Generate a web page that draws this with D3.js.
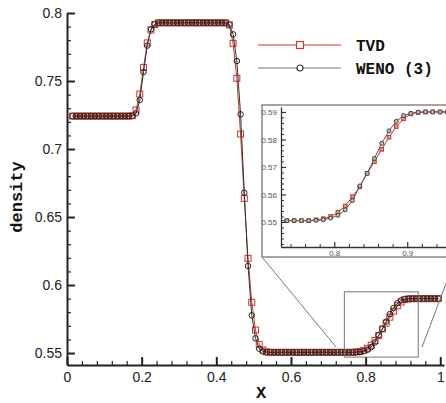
<!DOCTYPE html>
<html>
<head>
<meta charset="utf-8">
<script src="https://cdn.jsdelivr.net/npm/d3@7/dist/d3.min.js"></script>
<style>
  body { margin: 0; background: #fff; }
  svg { display: block; }
</style>
</head>
<body>
<div id="chart"></div>
<script>
// cell centres of the grid
var xs = [0.015,0.025,0.035,0.045,0.055,0.065,0.075,0.085,0.095,0.105,
  0.115,0.125,0.135,0.145,0.155,0.165,0.175,0.185,0.195,0.205,
  0.215,0.225,0.235,0.245,0.255,0.265,0.275,0.285,0.295,0.305,
  0.315,0.325,0.335,0.345,0.355,0.365,0.375,0.385,0.395,0.405,
  0.415,0.425,0.435,0.445,0.455,0.465,0.475,0.485,0.495,0.505,
  0.515,0.525,0.535,0.545,0.555,0.565,0.575,0.585,0.595,0.605,
  0.615,0.625,0.635,0.645,0.655,0.665,0.675,0.685,0.695,0.705,
  0.715,0.725,0.735,0.745,0.755,0.765,0.775,0.785,0.795,0.805,
  0.815,0.825,0.835,0.845,0.855,0.865,0.875,0.885,0.895,0.905,
  0.915,0.925,0.935,0.945,0.955,0.965,0.975,0.985,0.995];

var tvd = [0.7242,0.7242,0.7242,0.7242,0.7242,0.7242,0.7242,0.7242,0.7242,0.7242,
  0.7242,0.7242,0.7242,0.7242,0.7242,0.7242,0.7245,0.7287,0.7404,0.7600,
  0.7780,0.7875,0.7915,0.7928,0.7928,0.7928,0.7928,0.7928,0.7928,0.7928,
  0.7928,0.7928,0.7928,0.7928,0.7928,0.7928,0.7928,0.7928,0.7928,0.7928,
  0.7928,0.7928,0.7912,0.7777,0.7520,0.7110,0.6637,0.6196,0.5873,0.5669,
  0.5564,0.5522,0.5508,0.5505,0.5505,0.5505,0.5505,0.5505,0.5505,0.5505,
  0.5505,0.5505,0.5505,0.5505,0.5505,0.5505,0.5505,0.5505,0.5505,0.5505,
  0.5505,0.5505,0.5505,0.5505,0.5505,0.5505,0.5508,0.5512,0.5520,0.5535,
  0.5558,0.5592,0.5628,0.5677,0.5719,0.5764,0.5808,0.5847,0.5875,0.5893,
  0.5898,0.5900,0.5900,0.5900,0.5900,0.5900,0.5900,0.5900,0.5900];

var weno = [0.7242,0.7242,0.7242,0.7242,0.7242,0.7242,0.7242,0.7242,0.7242,0.7242,
  0.7242,0.7242,0.7242,0.7242,0.7242,0.7242,0.7243,0.7262,0.7360,0.7566,
  0.7760,0.7880,0.7918,0.7928,0.7928,0.7928,0.7928,0.7928,0.7928,0.7928,
  0.7928,0.7928,0.7928,0.7928,0.7928,0.7928,0.7928,0.7928,0.7928,0.7928,
  0.7928,0.7928,0.7915,0.7843,0.7647,0.7255,0.6679,0.6140,0.5777,0.5608,
  0.5532,0.5512,0.5506,0.5505,0.5505,0.5505,0.5505,0.5505,0.5505,0.5505,
  0.5505,0.5505,0.5505,0.5505,0.5505,0.5505,0.5505,0.5505,0.5505,0.5505,
  0.5505,0.5505,0.5505,0.5505,0.5505,0.5505,0.5506,0.5508,0.5514,0.5524,
  0.5544,0.5578,0.5631,0.5677,0.5731,0.5786,0.5831,0.5866,0.5887,0.5895,
  0.5899,0.5900,0.5900,0.5900,0.5900,0.5900,0.5900,0.5900,0.5900];

var seriesNames = ["TVD", "WENO (3)"];
var xTicks = [0, 0.2, 0.4, 0.6, 0.8, 1];
var yTicks = [0.55, 0.6, 0.65, 0.7, 0.75, 0.8];
var insetXTicks = [0.8, 0.9];
var insetYTicks = [0.55, 0.56, 0.57, 0.58, 0.59];
var zoomBox = [0.743, 0.941, 0.547, 0.595]; // x0, x1, y0, y1

var red = "#c8372b", dark = "#222";
var W = 446, H = 403;

var svg = d3.select("#chart").append("svg")
  .attr("width", W).attr("height", H);

var x = d3.scaleLinear().domain([0, 1.01]).range([67, 444]);
var y = d3.scaleLinear().domain([0.5412, 0.8]).range([365, 13]);

function near(v, list) {
  return list.some(function(t) { return Math.abs(t - v) < 1e-6; });
}
var xMinor = d3.range(0, 26).map(function(i) { return +(i * 0.04).toFixed(2); })
  .filter(function(v) { return v <= 1 && !near(v, xTicks); });
var yMinor = d3.range(55, 81).map(function(i) { return i / 100; })
  .filter(function(v) { return !near(v, yTicks); });

var points = xs.map(function(d, i) { return { x: d, tvd: tvd[i], weno: weno[i] }; });

// ---- main axes
svg.append("g")
  .attr("transform", "translate(0,365)")
  .call(d3.axisBottom(x).tickValues(xMinor).tickSize(-4).tickSizeOuter(0).tickFormat(""))
  .call(function(g) { g.select(".domain").remove(); g.selectAll("line").attr("stroke", dark).attr("stroke-width", 1.2); });

svg.append("g")
  .attr("transform", "translate(67,0)")
  .call(d3.axisLeft(y).tickValues(yMinor).tickSize(-4).tickSizeOuter(0).tickFormat(""))
  .call(function(g) { g.select(".domain").remove(); g.selectAll("line").attr("stroke", dark).attr("stroke-width", 1.2); });

var xAxisG = svg.append("g")
  .attr("transform", "translate(0,365)")
  .call(d3.axisBottom(x).tickValues(xTicks).tickSize(-8).tickSizeOuter(0).tickPadding(7).tickFormat(d3.format("")));

var yAxisG = svg.append("g")
  .attr("transform", "translate(67,0)")
  .call(d3.axisLeft(y).tickValues(yTicks).tickSize(-8).tickSizeOuter(0).tickPadding(5).tickFormat(d3.format("")));

[xAxisG, yAxisG].forEach(function(g) {
  g.select(".domain").attr("stroke", dark).attr("stroke-width", 2);
  g.selectAll(".tick line").attr("stroke", dark).attr("stroke-width", 2);
  g.selectAll(".tick text")
    .attr("font-family", "'Liberation Sans', Arial, sans-serif")
    .attr("font-size", 14).attr("fill", "#222");
});

svg.append("text")
  .attr("transform", "translate(22,197) rotate(-90)")
  .attr("text-anchor", "middle")
  .attr("font-family", "'Liberation Mono', 'Courier New', monospace")
  .attr("font-weight", "bold").attr("font-size", 17).attr("fill", "#111")
  .text("density");

svg.append("text")
  .attr("x", 261).attr("y", 398)
  .attr("text-anchor", "middle")
  .attr("font-family", "'Liberation Mono', 'Courier New', monospace")
  .attr("font-weight", "bold").attr("font-size", 17).attr("fill", "#111")
  .text("X");

// ---- main series
function drawSeries(g, sx, sy, data, key, color, lineColor, kind, size, fill) {
  g.append("path")
    .datum(data)
    .attr("fill", "none").attr("stroke", lineColor).attr("stroke-width", 1)
    .attr("d", d3.line().x(function(d) { return sx(d.x); }).y(function(d) { return sy(d[key]); }));
  if (kind === "square") {
    g.selectAll(".m-" + key).data(data).enter().append("rect")
      .attr("class", "m-" + key)
      .attr("x", function(d) { return sx(d.x) - size / 2; })
      .attr("y", function(d) { return sy(d[key]) - size / 2; })
      .attr("width", size).attr("height", size)
      .attr("fill", fill).attr("stroke", color).attr("stroke-width", 1);
  } else {
    g.selectAll(".m-" + key).data(data).enter().append("circle")
      .attr("class", "m-" + key)
      .attr("cx", function(d) { return sx(d.x); })
      .attr("cy", function(d) { return sy(d[key]); })
      .attr("r", size / 2)
      .attr("fill", fill).attr("stroke", color).attr("stroke-width", 1);
  }
}

var mainG = svg.append("g");
drawSeries(mainG, x, y, points, "tvd", red, red, "square", 6, "none");
drawSeries(mainG, x, y, points, "weno", dark, "#333", "circle", 5.5, "none");

// ---- zoom box and connectors
var bx0 = x(zoomBox[0]), bx1 = x(zoomBox[1]), by0 = y(zoomBox[3]), by1 = y(zoomBox[2]);
svg.append("rect")
  .attr("x", bx0).attr("y", by0).attr("width", bx1 - bx0).attr("height", by1 - by0)
  .attr("fill", "none").attr("stroke", "#777").attr("stroke-width", 1);

var frame = { x0: 262, y0: 105, x1: 456, y1: 257 };
var c1 = d3.interpolate([frame.x0, frame.y1], [bx0, by1])(0.9);
var c2 = d3.interpolate([bx1, by1], [frame.x1, frame.y1])(0.1);
svg.append("line").attr("x1", frame.x0).attr("y1", frame.y1).attr("x2", c1[0]).attr("y2", c1[1])
  .attr("stroke", "#777").attr("stroke-width", 1);
svg.append("line").attr("x1", c2[0]).attr("y1", c2[1]).attr("x2", frame.x1).attr("y2", frame.y1)
  .attr("stroke", "#777").attr("stroke-width", 1);

// ---- legend
var legend = svg.append("g");
[["tvd", 45], ["weno", 68]].forEach(function(e, i) {
  var g = legend.append("g").attr("transform", "translate(0," + e[1] + ")");
  g.append("line").attr("x1", 258).attr("x2", 341)
    .attr("stroke", i === 0 ? red : "#777").attr("stroke-width", 1.2);
  if (i === 0) {
    g.append("rect").attr("x", 296.5).attr("y", -3.5).attr("width", 7).attr("height", 7)
      .attr("fill", "#fff").attr("stroke", red).attr("stroke-width", 1.2);
  } else {
    g.append("circle").attr("cx", 300).attr("cy", 0).attr("r", 3)
      .attr("fill", "#fff").attr("stroke", "#333").attr("stroke-width", 1.2);
  }
  g.append("text").attr("x", 356).attr("y", 6)
    .attr("font-family", "'Liberation Mono', 'Courier New', monospace")
    .attr("font-weight", "bold").attr("font-size", 16).attr("fill", "#111")
    .text(seriesNames[i]);
});

// ---- inset
svg.append("rect")
  .attr("x", frame.x0).attr("y", frame.y0)
  .attr("width", frame.x1 - frame.x0).attr("height", frame.y1 - frame.y0)
  .attr("fill", "#fff").attr("stroke", "#8c7b75").attr("stroke-width", 1.4);

var ix = d3.scaleLinear().domain([0.727, 0.96]).range([281, 451]);
var iy = d3.scaleLinear().domain([0.5409, 0.5918]).range([247, 107]);

var ixMinor = d3.range(37, 48).map(function(i) { return +(i * 0.02).toFixed(2); })
  .filter(function(v) { return !near(v, insetXTicks); });
var iyMinor = d3.range(271, 296).map(function(i) { return +(i * 0.002).toFixed(3); })
  .filter(function(v) { return !near(v, insetYTicks); });

svg.append("defs").append("clipPath").attr("id", "insetClip")
  .append("rect").attr("x", 281).attr("y", 106).attr("width", 175).attr("height", 141);

var insetG = svg.append("g").attr("clip-path", "url(#insetClip)");
var insetPts = points.filter(function(d) { return d.x > 0.72; });
drawSeries(insetG, ix, iy, insetPts, "tvd", "#c0392b", "#c0392b", "square", 3.6, "#e59a90");
drawSeries(insetG, ix, iy, insetPts, "weno", "#444", "#555", "circle", 4, "#bbb");

svg.append("g").attr("transform", "translate(0,247)")
  .call(d3.axisBottom(ix).tickValues(ixMinor).tickSize(-3).tickSizeOuter(0).tickFormat(""))
  .call(function(g) { g.select(".domain").remove(); g.selectAll("line").attr("stroke", "#333"); });
svg.append("g").attr("transform", "translate(281,0)")
  .call(d3.axisLeft(iy).tickValues(iyMinor).tickSize(-3).tickSizeOuter(0).tickFormat(""))
  .call(function(g) { g.select(".domain").remove(); g.selectAll("line").attr("stroke", "#333"); });

var ixAxis = svg.append("g").attr("transform", "translate(0,247)")
  .call(d3.axisBottom(ix).tickValues(insetXTicks).tickSize(-5).tickSizeOuter(0).tickPadding(3).tickFormat(d3.format("")));
var iyAxis = svg.append("g").attr("transform", "translate(281,0)")
  .call(d3.axisLeft(iy).tickValues(insetYTicks).tickSize(-5).tickSizeOuter(0).tickPadding(4).tickFormat(d3.format("")));
[ixAxis, iyAxis].forEach(function(g) {
  g.select(".domain").attr("stroke", "#333").attr("stroke-width", 1.3);
  g.selectAll(".tick line").attr("stroke", "#333").attr("stroke-width", 1.2);
  g.selectAll(".tick text")
    .attr("font-family", "'Liberation Sans', Arial, sans-serif")
    .attr("font-size", 8).attr("fill", "#555");
});
</script>
</body>
</html>
